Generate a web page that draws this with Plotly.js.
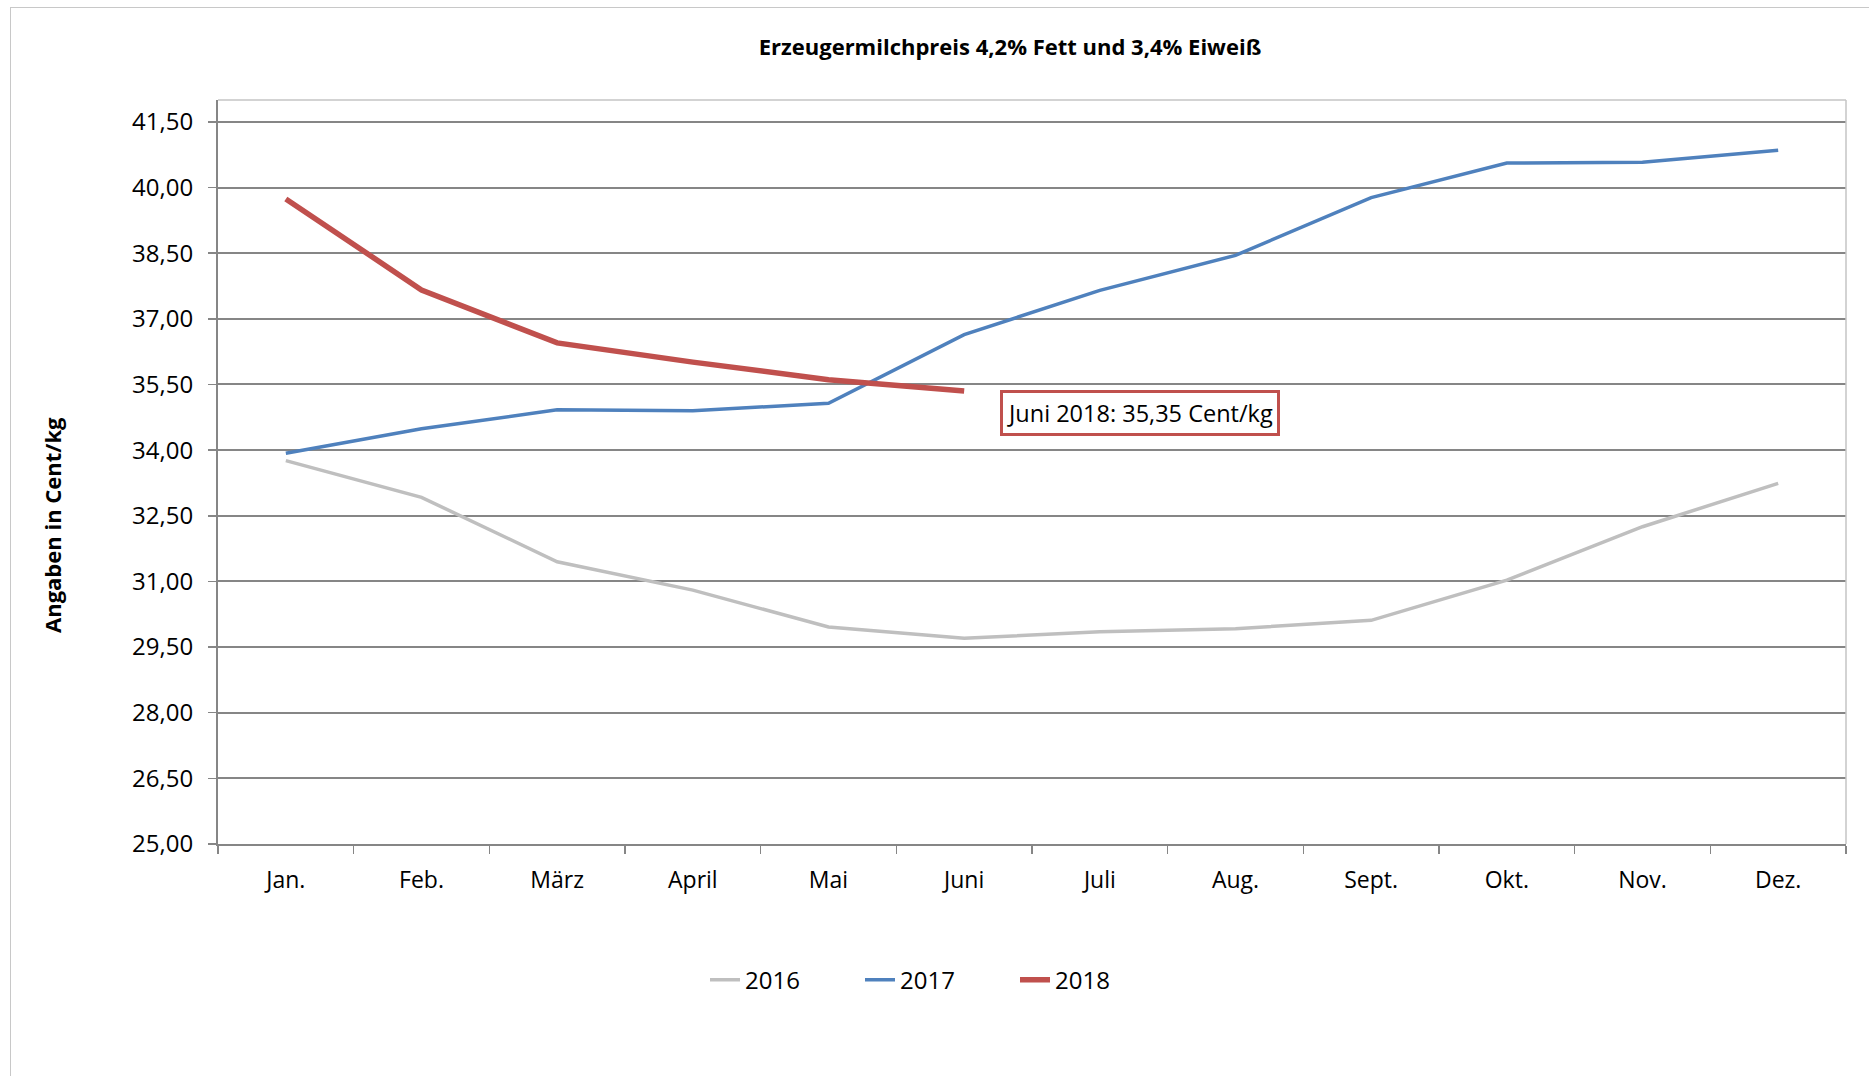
<!DOCTYPE html>
<html>
<head>
<meta charset="utf-8">
<script src="https://cdn.plot.ly/plotly-3.0.1.min.js"></script>
<style>
  html, body { margin:0; padding:0; background:#fff; }
  #chart { position:absolute; left:0; top:0; width:1869px; height:1076px; }
  #frame { position:absolute; left:10px; top:7px; width:1900px; height:1100px;
           border-left:1.5px solid #c8c8c8; border-top:1.5px solid #c8c8c8; pointer-events:none; }
</style>
</head>
<body>
<div id="chart"></div>
<div id="frame"></div>
<script>
const months = ["Jan.", "Feb.", "März", "April", "Mai", "Juni", "Juli", "Aug.", "Sept.", "Okt.", "Nov.", "Dez."];
const v2016 = [33.76, 32.92, 31.45, 30.80, 29.96, 29.70, 29.85, 29.92, 30.11, 31.03, 32.25, 33.24];
const v2017 = [33.93, 34.49, 34.92, 34.90, 35.07, 36.64, 37.65, 38.45, 39.77, 40.56, 40.58, 40.85];
const v2018 = [39.74, 37.66, 36.45, 36.01, 35.61, 35.35];
const seriesNames = ["2016", "2017", "2018"];
const titleText = "Erzeugermilchpreis 4,2% Fett und 3,4% Eiweiß";
const yTitle = "Angaben in Cent/kg";

const FONT = "Open Sans, sans-serif";
const fmt = v => v.toFixed(2).replace(".", ",");

const traces = [
  {x: months, y: v2016, name: seriesNames[0], type: "scatter", mode: "lines",
   line: {color: "#BFBFBF", width: 3.5}},
  {x: months, y: v2017, name: seriesNames[1], type: "scatter", mode: "lines",
   line: {color: "#4F81BD", width: 3.5}},
  {x: months.slice(0, v2018.length), y: v2018, name: seriesNames[2], type: "scatter", mode: "lines",
   line: {color: "#C0504D", width: 5.5}}
];

const lastIdx = v2018.length - 1;
const layout = {
  width: 1869, height: 1076,
  margin: {l: 218, r: 23, t: 100, b: 232},
  paper_bgcolor: "rgba(0,0,0,0)", plot_bgcolor: "#fff",
  separators: ",.",
  font: {family: FONT, size: 23, color: "#000"},
  showlegend: true,
  title: {text: "<b>" + titleText + "</b>", font: {family: FONT, size: 22, color: "#000"},
          x: 1010/1869, xanchor: "center", y: 1 - 47.7/1076, yanchor: "middle", xref: "container", yref: "container"},
  xaxis: {
    type: "category", range: [-0.5, 11.5], fixedrange: true,
    showline: true, linecolor: "#868686", linewidth: 2,
    ticks: "outside", tickson: "boundaries", ticklen: 8, tickcolor: "#868686", tickwidth: 1.5,
    showgrid: false, zeroline: false, ticklabelstandoff: 14,
    tickfont: {family: FONT, size: 23, color: "#000"}
  },
  yaxis: {
    range: [25, 42], tick0: 25, dtick: 1.5, tickformat: ".2f",
    showline: true, linecolor: "#868686", linewidth: 2,
    ticks: "outside", ticklen: 8, tickcolor: "#868686", tickwidth: 1.5,
    showgrid: true, gridcolor: "#868686", gridwidth: 2, zeroline: false, ticklabelstandoff: 10,
    tickfont: {family: FONT, size: 24, color: "#000"}
  },
  legend: {orientation: "h", x: 487/1628, xanchor: "left", y: -0.183, yanchor: "middle",
           entrywidth: 110, entrywidthmode: "pixels",
           font: {family: FONT, size: 24, color: "#000"}, bgcolor: "rgba(0,0,0,0)"},
  shapes: [
    {type: "line", xref: "paper", yref: "paper", x0: 0, x1: 1, y0: 1, y1: 1, line: {color: "#c4c4c4", width: 1.5}},
    {type: "line", xref: "paper", yref: "paper", x0: 1, x1: 1, y0: 0, y1: 1, line: {color: "#c4c4c4", width: 1.5}}
  ],
  annotations: [
    {text: "<b>" + yTitle + "</b>", xref: "paper", yref: "paper", textangle: -90,
     x: (52 - 218)/1628, y: (844 - 525)/744, xanchor: "center", yanchor: "middle", showarrow: false,
     font: {family: FONT, size: 22, color: "#000"}},
    {text: months[lastIdx].replace(".", "") + " 2018: " + fmt(v2018[lastIdx]) + " Cent/kg",
     xref: "paper", yref: "paper", x: (1140 - 218)/1628, y: (844 - 412.5)/744,
     xanchor: "center", yanchor: "middle", showarrow: false,
     bordercolor: "#C0504D", borderwidth: 3, borderpad: 4, bgcolor: "#fff",
     font: {family: FONT, size: 23.5, color: "#000"}}
  ]
};

Plotly.newPlot("chart", traces, layout, {displayModeBar: false, staticPlot: true});
</script>
</body>
</html>
